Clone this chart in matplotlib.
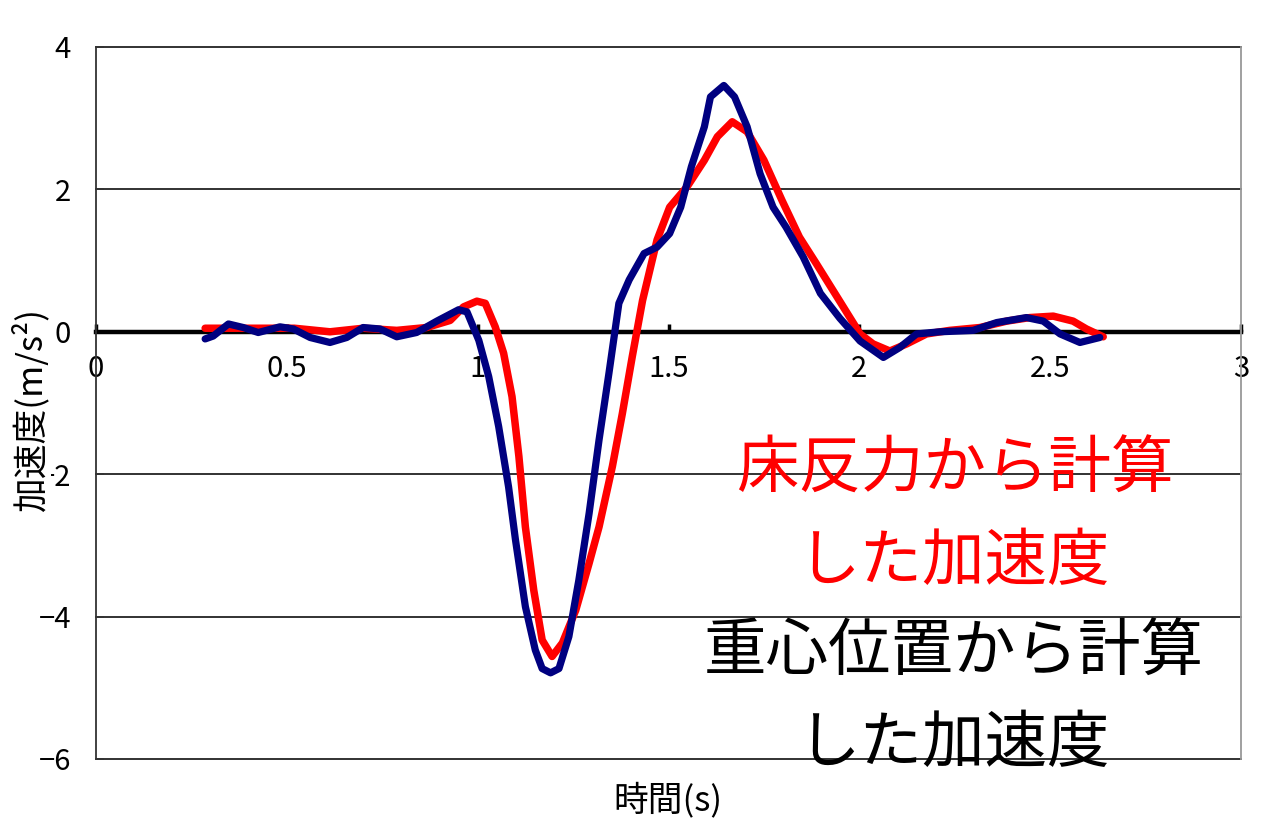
import matplotlib
matplotlib.use("Agg")
import matplotlib.pyplot as plt

plt.rcParams['font.family'] = ['Noto Sans CJK JP', 'DejaVu Sans']

# Data: acceleration computed from floor reaction force (red)
t_force = [0.286, 0.420, 0.520, 0.613, 0.700, 0.788, 0.866, 0.928, 0.963, 0.998,
           1.020, 1.046, 1.068, 1.090, 1.108, 1.125, 1.147, 1.169, 1.195, 1.222,
           1.257, 1.292, 1.318, 1.353, 1.379, 1.405, 1.432, 1.470, 1.503, 1.549,
           1.594, 1.628, 1.667, 1.706, 1.750, 1.797, 1.843, 1.887, 1.944, 2.002,
           2.036, 2.080, 2.124, 2.176, 2.237, 2.316, 2.386, 2.447, 2.508, 2.560,
           2.595, 2.639]
a_force = [0.05, 0.05, 0.05, 0.00, 0.05, 0.02, 0.06, 0.16, 0.35, 0.43,
           0.40, 0.07, -0.30, -0.91, -1.75, -2.74, -3.63, -4.33, -4.56, -4.37,
           -3.91, -3.25, -2.74, -1.89, -1.15, -0.35, 0.44, 1.29, 1.75, 2.04,
           2.41, 2.74, 2.95, 2.81, 2.41, 1.85, 1.33, 0.96, 0.47, -0.03,
           -0.17, -0.27, -0.17, -0.03, 0.02, 0.06, 0.15, 0.20, 0.22, 0.15,
           0.04, -0.07]

# Data: acceleration computed from centre-of-gravity position (navy)
t_cog = [0.286, 0.307, 0.347, 0.386, 0.425, 0.482, 0.517, 0.561, 0.613, 0.657,
         0.700, 0.744, 0.788, 0.840, 0.893, 0.950, 0.972, 1.003, 1.029, 1.055,
         1.081, 1.099, 1.125, 1.151, 1.169, 1.191, 1.213, 1.239, 1.265, 1.292,
         1.318, 1.344, 1.370, 1.397, 1.436, 1.470, 1.503, 1.532, 1.560, 1.594,
         1.610, 1.645, 1.673, 1.706, 1.740, 1.774, 1.808, 1.853, 1.898, 1.949,
         2.002, 2.063, 2.106, 2.150, 2.211, 2.298, 2.360, 2.438, 2.482, 2.526,
         2.578, 2.630]
a_cog = [-0.10, -0.06, 0.11, 0.06, -0.01, 0.07, 0.04, -0.08, -0.15, -0.08,
         0.06, 0.04, -0.07, -0.01, 0.15, 0.31, 0.28, -0.12, -0.63, -1.33,
         -2.18, -2.92, -3.86, -4.47, -4.73, -4.79, -4.73, -4.28, -3.49, -2.55,
         -1.52, -0.58, 0.40, 0.73, 1.10, 1.19, 1.38, 1.75, 2.32, 2.88,
         3.30, 3.46, 3.30, 2.88, 2.22, 1.75, 1.47, 1.05, 0.54, 0.19,
         -0.13, -0.36, -0.22, -0.03, 0.00, 0.02, 0.13, 0.20, 0.15, -0.03,
         -0.15, -0.08]

x_ticks = [0, 0.5, 1, 1.5, 2, 2.5, 3]
x_tick_labels = ['0', '0.5', '1', '1.5', '2', '2.5', '3']
y_ticks = [-6, -4, -2, 0, 2, 4]
y_tick_labels = ['\u22126', '\u22124', '\u22122', '0', '2', '4']

label_force = ['床反力から計算', 'した加速度']
label_cog = ['重心位置から計算', 'した加速度']
x_label = '時間(s)'
y_label = '加速度(m/s²)'

W, H = 1280, 834
fig = plt.figure(figsize=(W / 100, H / 100), dpi=100)
ax = fig.add_axes([96 / W, 1 - 759 / H, (1241 - 96) / W, (759 - 47) / H])

ax.set_xlim(0, 3)
ax.set_ylim(-6, 4)

# horizontal grid lines
for yv in [-6, -4, -2, 2, 4]:
    ax.axhline(yv, color='#222222', lw=1.3, zorder=1, clip_on=False)

ax.plot(t_force, a_force, color='#ff0000', lw=5.4, zorder=3,
        solid_joinstyle='round', solid_capstyle='round')
ax.plot(t_cog, a_cog, color='#000080', lw=5.2, zorder=4,
        solid_joinstyle='round', solid_capstyle='round')

ax.spines['top'].set_visible(False)
ax.spines['left'].set_color('#333333')
ax.spines['left'].set_linewidth(1.3)
ax.spines['right'].set_color('#999999')
ax.spines['right'].set_linewidth(1.3)
ax.spines['bottom'].set_position(('data', 0))
ax.spines['bottom'].set_linewidth(3.2)
ax.spines['bottom'].set_color('black')
ax.spines['bottom'].set_zorder(2)

ax.set_xticks(x_ticks)
ax.set_xticklabels(x_tick_labels)
ax.set_yticks(y_ticks)
ax.set_yticklabels(y_tick_labels)
ax.tick_params(axis='x', direction='in', length=6, width=2.5, pad=16,
               labelsize=21, color='black')
ax.tick_params(axis='y', direction='in', length=6, width=1.3, pad=18,
               labelsize=21, color='#333333')

fig.text(668 / W, 1 - 800 / H, x_label, ha='center', va='center', fontsize=25)
fig.text(31 / W, 1 - 410 / H, y_label, ha='center', va='center', fontsize=25,
         rotation=90, zorder=10,
         bbox=dict(facecolor='white', edgecolor='none', pad=1))

fig.text(955 / W, 1 - 470 / H, label_force[0], ha='center', va='center',
         fontsize=45, color='#ff0000')
fig.text(953 / W, 1 - 562 / H, label_force[1], ha='center', va='center',
         fontsize=45, color='#ff0000')
fig.text(954 / W, 1 - 653 / H, label_cog[0], ha='center', va='center',
         fontsize=45, color='black')
fig.text(953 / W, 1 - 744 / H, label_cog[1], ha='center', va='center',
         fontsize=45, color='black')

fig.savefig('out.png', dpi=100, facecolor='white')
